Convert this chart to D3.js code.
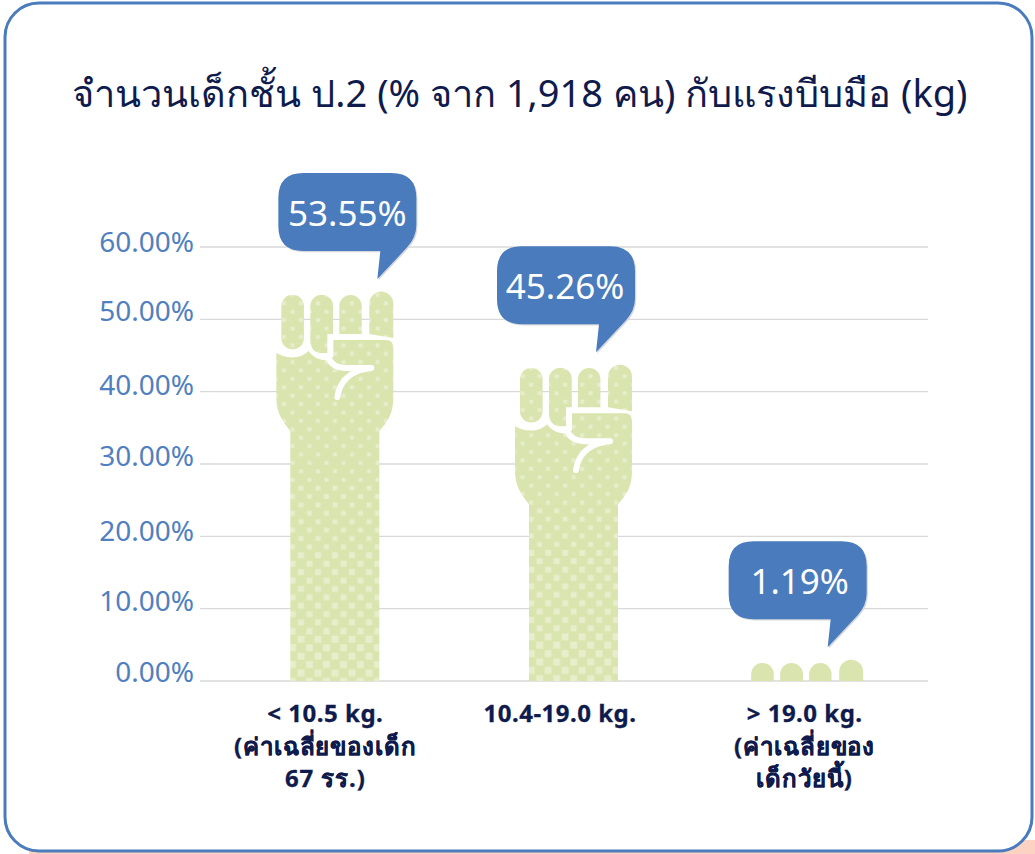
<!DOCTYPE html>
<html>
<head>
<meta charset="utf-8">
<script src="https://d3js.org/d3.v7.min.js"></script>
<style>
  html, body { margin: 0; padding: 0; background: #fff; }
  text { font-family: "Noto Sans", "Open Sans", sans-serif; }
</style>
</head>
<body>
<div id="chart"></div>
<script>
// chart values
var titleText = "จำนวนเด็กชั้น ป.2 (% จาก 1,918 คน) กับแรงบีบมือ (kg)";
var categories = ["low", "mid", "high"];
var categoryLines = [
  ["< 10.5 kg.", "(ค่าเฉลี่ยของเด็ก", "67 รร.)"],
  ["10.4-19.0 kg."],
  ["> 19.0 kg.", "(ค่าเฉลี่ยของ", "เด็กวัยนี้)"]
];
var values = [53.55, 45.26, 1.19];
// height of the hand as drawn in the picture, in axis units
var drawnValues = [53.9, 43.8, 3.0];
var yTicks = [0, 10, 20, 30, 40, 50, 60];

var width = 1035, height = 854;
var blue = "#4a7bbd", green = "#dae4ae", dot = "#e8eecb";

var svg = d3.select("#chart").append("svg")
    .attr("width", width)
    .attr("height", height)
    .style("display", "block");

var y = d3.scaleLinear().domain([0, 60]).range([681, 247]);
var x = d3.scaleBand().domain(categories).range([200, 928]);

// small offsets, the picture is not quite evenly spaced
var handNudge = [14, 10, -1.5];
var labelNudge = [4, -4, -2];
var bubbleLeft = [-57, -77, -76.5];
var bubbleTextNudge = [0, -1, 2];
var tickNudge = { 0: 1, 10: 2, 20: 5, 30: 2, 40: 3, 50: 2, 60: 5 };

var defs = svg.append("defs");

// the dots get bigger further down the arm (y is where each size stops)
var dotSizes = [
  { size: 4, until: 483 },
  { size: 5, until: 550 },
  { size: 6, until: 633 },
  { size: 7, until: 681 }
];
dotSizes.forEach(function(d){
  var p = defs.append("pattern").attr("id", "dots" + d.size)
      .attr("patternUnits", "userSpaceOnUse")
      .attr("x", 15.4).attr("y", 108.8)
      .attr("width", 17).attr("height", 16.8);
  p.append("rect").attr("width", 17).attr("height", 16.8).attr("fill", green);
  p.append("rect").attr("x", 4.25 - d.size / 2).attr("y", 4.2 - d.size / 2)
      .attr("width", d.size).attr("height", d.size).attr("fill", dot);
  p.append("rect").attr("x", 12.75 - d.size / 2).attr("y", 12.6 - d.size / 2)
      .attr("width", d.size).attr("height", d.size).attr("fill", dot);
});

// background corner + card
svg.append("path")
    .attr("d", "M29,854V840H1035V790V854Z")
    .attr("fill", "#fcd2c2");
svg.append("rect")
    .attr("x", 5).attr("y", 3).attr("width", 1027).attr("height", 848)
    .attr("rx", 34).attr("ry", 34)
    .attr("fill", "#fff").attr("stroke", blue).attr("stroke-width", 3);

// title
svg.append("text")
    .attr("x", 520).attr("y", 107)
    .attr("text-anchor", "middle")
    .attr("font-size", 38)
    .attr("fill", "#0f1b4c")
    .text(titleText);

// grid and y labels
svg.append("g").selectAll("line")
    .data(yTicks)
    .enter()
    .append("line")
    .attr("x1", 200).attr("x2", 928)
    .attr("y1", function(d){ return y(d); })
    .attr("y2", function(d){ return y(d); })
    .attr("stroke", "#d9d9d9")
    .attr("stroke-width", 1.3);

svg.append("g").selectAll("text")
    .data(yTicks)
    .enter()
    .append("text")
    .attr("x", 194)
    .attr("y", function(d){ return y(d) + tickNudge[d]; })
    .attr("text-anchor", "end")
    .attr("font-size", 28)
    .attr("fill", "#5080c0")
    .text(function(d){ return d.toFixed(2) + "%"; });

// hand glyph, x measured from the left of the first finger, y from top of the hand
var fingers = [
  "M0,15a11.3,11.3 0 0 1 22.6,0V47a11.3,11.3 0 0 1 -22.6,0Z",
  "M29,15a11.4,11.4 0 0 1 22.8,0V43H46V62H40a11,11 0 0 1 -11,-11Z",
  "M58,15a11.2,11.2 0 0 1 22.4,0V43H58Z",
  "M88,12.5a12,12 0 0 1 24,0V47L88,43Z"
];
var palm = "M-5,62C5,68 20,68 27,60C33,68 42,70 47,69L52,66V49H105Q112,49 112,57V106C112,122 107,130 98,140H9C1,130 -5,122 -5,106Z";
var creases = [
  "M47,67C50,73 55,77 64,77H90",
  "M84,78C70,80 58,90 56,106"
];

var clip = defs.append("clipPath").attr("id", "plotClip");
clip.append("rect").attr("x", 0).attr("y", 0).attr("width", width).attr("height", y(0));

var marks = svg.append("g").attr("clip-path", "url(#plotClip)");

categories.forEach(function(c, i){
  var centre = x(c) + x.bandwidth() / 2 + handNudge[i];
  var top = y(drawnValues[i]);
  var left = centre - 54;
  var handFill = y(0) - top < 40 ? green : "url(#dots4)";

  var g = marks.append("g").attr("transform", "translate(" + left + "," + top + ")");

  // arm, one piece per dot size
  var from = top + 135;
  dotSizes.forEach(function(d){
    if (from >= d.until) return;
    g.append("rect")
        .attr("x", 9).attr("y", from - top)
        .attr("width", 89).attr("height", d.until - from)
        .attr("fill", "url(#dots" + d.size + ")");
    from = d.until;
  });

  g.selectAll("path.finger").data(fingers).enter().append("path")
      .attr("class", "finger").attr("d", function(d){ return d; }).attr("fill", handFill);
  g.append("path").attr("d", palm).attr("fill", handFill);
  g.selectAll("path.crease").data(creases).enter().append("path")
      .attr("class", "crease").attr("d", function(d){ return d; })
      .attr("fill", "none").attr("stroke", "#fff").attr("stroke-width", 6).attr("stroke-linecap", "round");
});

// speech bubbles
var bubblePath = "M25,0H113Q138,0 138,25V52Q138,64 129,74L99,106L102,78H25Q0,78 0,53V25Q0,0 25,0Z";
categories.forEach(function(c, i){
  var centre = x(c) + x.bandwidth() / 2 + handNudge[i];
  var top = y(drawnValues[i]) - 118;
  var left = centre + bubbleLeft[i];
  var b = svg.append("g").attr("transform", "translate(" + left + "," + top + ")");
  b.append("path").attr("d", bubblePath)
      .attr("transform", "translate(1.2,1.2)")
      .attr("fill", "#d5d8dc");
  b.append("path").attr("d", bubblePath).attr("fill", blue);
  b.append("text")
      .attr("x", 69 + bubbleTextNudge[i]).attr("y", 53)
      .attr("text-anchor", "middle")
      .attr("font-size", 35)
      .attr("fill", "#fff")
      .text(values[i].toFixed(2) + "%");
});

// category labels
categories.forEach(function(c, i){
  var centre = x(c) + x.bandwidth() / 2 + labelNudge[i];
  svg.append("g").selectAll("text")
      .data(categoryLines[i])
      .enter()
      .append("text")
      .attr("x", centre)
      .attr("y", function(d, j){ return 722 + j * 32.5; })
      .attr("text-anchor", "middle")
      .attr("font-family", "Inter, 'Noto Sans', sans-serif")
      .attr("font-size", 24)
      .attr("font-weight", "bold")
      .attr("letter-spacing", function(d){ return /[\u0E00-\u0E7F]/.test(d) ? 0.9 : 0.5; })
      .attr("fill", "#0f1b4c")
      .attr("stroke", "#0f1b4c")
      .attr("stroke-width", 0.3)
      .text(function(d){ return d; });
});
</script>
</body>
</html>
